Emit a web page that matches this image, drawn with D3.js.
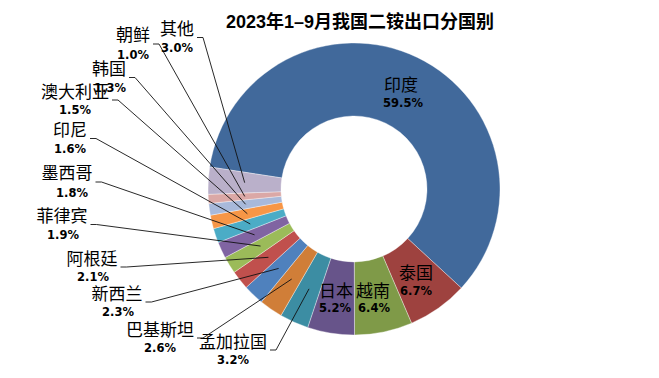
<!DOCTYPE html>
<html><head><meta charset="utf-8">
<script src="https://cdn.jsdelivr.net/npm/d3@7"></script>
<style>
html,body{margin:0;padding:0;background:#fff;}
svg{display:block;}
</style></head>
<body>
<script>
// ---- data ----
const countries = ["印度","泰国","越南","日本","孟加拉国","巴基斯坦","新西兰","阿根廷","菲律宾","墨西哥","印尼","澳大利亚","韩国","朝鲜","其他"];
const shares = [59.5,6.7,6.4,5.2,3.2,2.6,2.3,2.1,1.9,1.8,1.6,1.5,1.3,1.0,3.0];
const pctLabels = ["59.5%","6.7%","6.4%","5.2%","3.2%","2.6%","2.3%","2.1%","1.9%","1.8%","1.6%","1.5%","1.3%","1.0%","3.0%"];
const titleText = "2023年1–9月我国二铵出口分国别";

// ---- styles / layout ----
const colors = ["#41699B","#9E423F","#7F9A48","#67548A","#3C8DA3","#D07E38","#4F81BD","#C0504D","#9BBB59","#8064A2","#4BACC6","#F79646","#A8B9DA","#DBA8A6","#BAB0CA"];
// label layout: [nameX, nameY, pctX, pctY, leader?]
const labelLayout = [
  [401,83,403,103,false],
  [416,271,416,291,false],
  [373,289,374,308,false],
  [336,289,335,308,false],
  [233,340,233,360,true],
  [160,328,160,348,true],
  [117,292,118,312,true],
  [92,257,93,277,true],
  [62,214,63,235,true],
  [67,171,72,193,true],
  [70,128,70,149,true],
  [75,90,75,110,true],
  [109,67,110,88,true],
  [133,33,133,55,true],
  [177,27,177,48,true]
];

const W = 659, H = 378;
const cx = 354, cy = 189, rOuter = 146, rInner = 73;
const startDeg = -81.3;

const svg = d3.select("body").append("svg").attr("width", W).attr("height", H);

svg.append("text")
  .attr("x", 360).attr("y", 22)
  .attr("text-anchor", "middle").attr("dominant-baseline", "central")
  .style("font-family", "'Liberation Sans','Noto Sans CJK SC',sans-serif")
  .style("font-weight", "bold").style("font-size", "18px").style("fill", "#000")
  .text(titleText);

const pie = d3.pie().sort(null).value(d => d)
  .startAngle(startDeg * Math.PI / 180)
  .endAngle((startDeg + 360) * Math.PI / 180);
const arcs = pie(shares);
const arc = d3.arc().innerRadius(rInner).outerRadius(rOuter);

const g = svg.append("g").attr("transform", `translate(${cx},${cy})`);
g.selectAll("path.slice").data(arcs).enter().append("path")
  .attr("class", "slice")
  .attr("d", arc)
  .attr("fill", (d, i) => colors[i])
  .attr("stroke", "#ffffff").attr("stroke-width", 0.6).attr("stroke-opacity", 0.6);

const labels = svg.append("g");
arcs.forEach((d, i) => {
  const L = labelLayout[i];
  const name = labels.append("text")
    .attr("x", L[0]).attr("y", L[1])
    .attr("text-anchor", "middle").attr("dominant-baseline", "central")
    .style("font-family", "'Noto Sans CJK SC',sans-serif")
    .style("font-size", "17px").style("fill", "#000")
    .text(countries[i]);
  labels.append("text")
    .attr("x", L[2]).attr("y", L[3])
    .attr("text-anchor", "middle").attr("dominant-baseline", "central")
    .style("font-family", "'DejaVu Sans',sans-serif")
    .style("font-weight", "bold").style("font-size", "11.5px").style("fill", "#000")
    .text(pctLabels[i]);
  if (L[4]) {
    const bb = name.node().getBBox();
    const x0 = bb.x + bb.width + 3;
    const y0 = (L[1] + L[3]) / 2;
    const c = arc.centroid(d);
    const pts = [[x0, y0], [x0 + 6, y0], [cx + c[0], cy + c[1]]];
    labels.append("path")
      .attr("d", d3.line()(pts))
      .attr("fill", "none").attr("stroke", "#111").attr("stroke-width", 0.9);
  }
});
</script>
</body></html>
